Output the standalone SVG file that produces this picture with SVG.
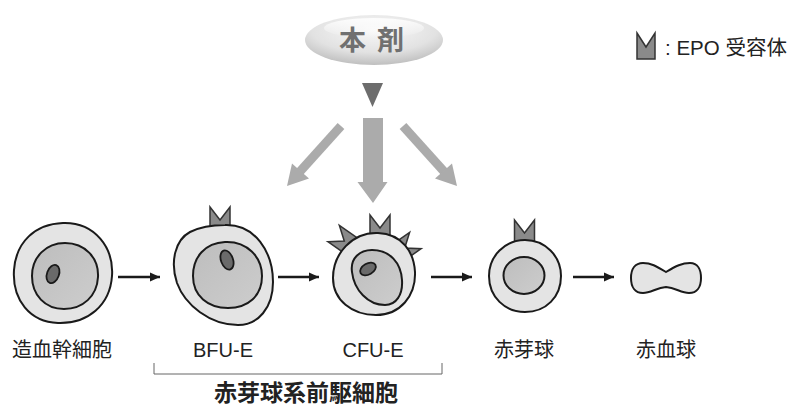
<svg xmlns="http://www.w3.org/2000/svg" width="787" height="412" viewBox="0 0 787 412">
  <style>
    .lbl { font-family: "Liberation Sans", "Noto Sans CJK JP", sans-serif; font-size: 20px; fill: #222; text-anchor: middle; }
    .outer { fill: #e4e4e4; stroke: #1a1a1a; stroke-width: 2; }
    .inner { fill: url(#nucleus); stroke: #1a1a1a; stroke-width: 2; }
    .dot { fill: #6a6a6a; stroke: #1a1a1a; stroke-width: 1.8; }
    .rcp { fill: #8a8a8a; stroke: #333; stroke-width: 1.5; stroke-linejoin: miter; }
    .flow { stroke: #1a1a1a; stroke-width: 2.5; fill: none; marker-end: url(#head); }
    .drug { fill: #ababab; }
  </style>
  <defs>
    <linearGradient id="nucleus" x1="0" y1="0" x2="1" y2="1">
      <stop offset="0" stop-color="#bdbdbd"/>
      <stop offset="1" stop-color="#cdcdcd"/>
    </linearGradient>
    <radialGradient id="pill" cx="0.5" cy="0.3" r="0.75">
      <stop offset="0" stop-color="#f8f8f8"/>
      <stop offset="0.6" stop-color="#e2e2e2"/>
      <stop offset="1" stop-color="#b8b8b8"/>
    </radialGradient>
    <linearGradient id="gloss" x1="0" y1="0" x2="0" y2="1">
      <stop offset="0" stop-color="#ffffff" stop-opacity="0.9"/>
      <stop offset="1" stop-color="#ffffff" stop-opacity="0"/>
    </linearGradient>
    <marker id="head" markerUnits="userSpaceOnUse" markerWidth="10" markerHeight="10" refX="10" refY="5" orient="auto">
      <path d="M0,0.5 L10,5 L0,9.5 Z" fill="#1a1a1a"/>
    </marker>
    <!-- EPO receptor: notched block, base hidden under the cell body -->
    <polygon id="receptor" class="rcp" points="-10,-20 0,-7 10,-20 10,12 -10,12"/>
  </defs>

  <!-- drug capsule -->
  <g id="drug">
    <ellipse cx="374" cy="40" rx="69" ry="25" fill="url(#pill)"/>
    <ellipse cx="374" cy="28" rx="50" ry="10" fill="url(#gloss)"/>
    <text x="339 366 377" y="50" font-family="'Noto Sans CJK JP', sans-serif" font-size="27" font-weight="bold" fill="#707070">本 剤</text>
    <polygon points="362,83 383,83 372.5,107" fill="#6d6d6d"/>
  </g>

  <!-- legend -->
  <g id="legend">
    <polygon class="rcp" points="637,33 646,47 655,33 655,59 637,59"/>
    <text x="665" y="55" font-family="'Liberation Sans', 'Noto Sans CJK JP', sans-serif" font-size="20.5" fill="#222">: EPO 受容体</text>
  </g>

  <!-- stimulation arrows from the drug -->
  <g id="drug-arrows">
    <polygon class="drug" points="363,118 383,118 383,182 387.5,182 373,203 357.5,182 363,182"/>
    <line x1="341" y1="126" x2="300" y2="171.5" stroke="#ababab" stroke-width="9"/>
    <polygon class="drug" points="287,186 292,163.5 309,178.5"/>
    <line x1="403" y1="126" x2="444" y2="171.5" stroke="#ababab" stroke-width="9"/>
    <polygon class="drug" points="457,186 452,163.5 435,178.5"/>
  </g>

  <!-- hematopoietic stem cell -->
  <g id="hsc">
    <path class="outer" d="M63 223 C95 222 114 248 112 276 C110 305 88 324 58 323 C30 322 12 300 14 270 C16 242 35 224 63 223 Z"/>
    <path class="inner" d="M65 243 C85 243 99 258 98 277 C97 296 83 309 64 309 C45 309 32 295 32 276 C32 257 46 243 65 243 Z"/>
    <ellipse class="dot" cx="53" cy="274" rx="6" ry="9.5" transform="rotate(20 53 274)"/>
    <text class="lbl" x="62" y="357">造血幹細胞</text>
  </g>

  <!-- BFU-E -->
  <g id="bfu-e">
    <use href="#receptor" transform="translate(220 227)"/>
    <path class="outer" d="M225 225 C255 224 273 252 273 282 C273 308 258 325 238 325 C210 325 185 305 177 283 C170 262 175 240 190 232 C200 227 212 225 225 225 Z"/>
    <path class="inner" d="M225 242 C247 241 262 257 262 276 C262 296 248 308 228 308 C208 308 193 296 193 276 C193 257 205 243 225 242 Z"/>
    <ellipse class="dot" cx="227" cy="260" rx="6" ry="10" transform="rotate(-20 227 260)"/>
    <text class="lbl" x="223" y="357">BFU-E</text>
  </g>

  <!-- CFU-E -->
  <g id="cfu-e">
    <use href="#receptor" transform="translate(380 235)"/>
    <use href="#receptor" transform="translate(350 245) rotate(-55)"/>
    <use href="#receptor" transform="translate(399 252) rotate(55)"/>
    <path class="outer" d="M378 233 C402 234 414 252 415 272 C416 296 400 315 376 315 C352 315 333 300 333 278 C333 254 352 232 378 233 Z"/>
    <path class="inner" d="M372 250 C390 250 401 263 402 280 C403 295 396 305 385 305 C368 305 354 290 352 272 C350 258 360 250 372 250 Z"/>
    <ellipse class="dot" cx="368" cy="269" rx="8.5" ry="5.5" transform="rotate(-30 368 269)"/>
    <text class="lbl" x="373" y="357">CFU-E</text>
  </g>

  <!-- erythroblast -->
  <g id="erythroblast">
    <use href="#receptor" transform="translate(524.5 240)"/>
    <path class="outer" d="M525 240 C545 240 561 256 561 276 C561 297 546 312 525 312 C505 312 489 297 489 276 C489 256 505 240 525 240 Z"/>
    <ellipse class="inner" cx="524" cy="275.5" rx="20.5" ry="18.5"/>
    <text class="lbl" x="524" y="357">赤芽球</text>
  </g>

  <!-- red blood cell -->
  <g id="rbc">
    <path class="outer" d="M666 272 C676 266 682 263 690 263 C698 263 701 270 701 278 C701 287 697 293 689 293 C681 293 676 288 666 287 C656 288 651 293 643 293 C635 293 631 287 631 278 C631 269 635 263 643 263 C651 263 656 266 666 272 Z"/>
    <text class="lbl" x="666" y="357">赤血球</text>
  </g>

  <!-- differentiation arrows -->
  <g id="connectors">
    <line class="flow" x1="118" y1="277" x2="160" y2="277"/>
    <line class="flow" x1="278" y1="277" x2="319" y2="277"/>
    <line class="flow" x1="431" y1="277" x2="472" y2="277"/>
    <line class="flow" x1="573" y1="277" x2="614" y2="277"/>
  </g>

  <!-- progenitor bracket -->
  <g id="progenitors">
    <polyline points="154,363 154,374 442,374 442,363" fill="none" stroke="#666" stroke-width="1"/>
    <text x="306" y="401" font-family="'Noto Sans CJK JP', sans-serif" font-size="23" font-weight="bold" fill="#222" text-anchor="middle">赤芽球系前駆細胞</text>
  </g>
</svg>
